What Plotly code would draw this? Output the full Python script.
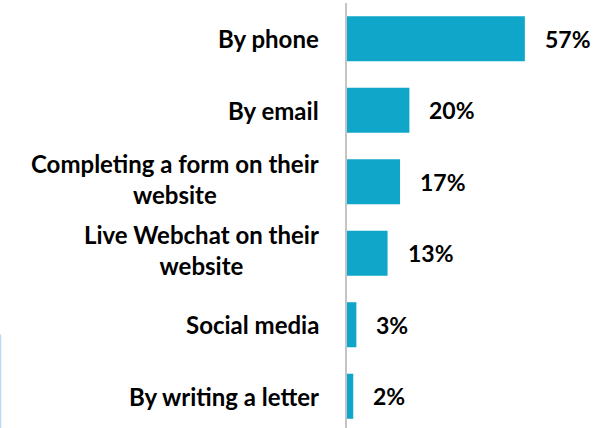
import plotly.graph_objects as go

# Contact channels and share of respondents (%)
channels = [
    "By phone",
    "By email",
    "Completing a form on their<br>website",
    "Live Webchat on their<br>website",
    "Social media",
    "By writing a letter",
]
shares = [57, 20, 17, 13, 3, 2]

BAR_COLOR = "#0FA6C9"
FONT = "Lato, 'Open Sans', sans-serif"
LABEL_SIZE = 24
VALUE_SIZE = 23

fig = go.Figure(
    go.Bar(
        x=shares,
        y=channels,
        orientation="h",
        marker=dict(color=BAR_COLOR, line=dict(width=0)),
        width=0.63,
        hoverinfo="skip",
    )
)

for ch, v in zip(channels, shares):
    # category label, right-anchored left of the axis, lines centred
    fig.add_annotation(
        x=0, y=ch, xref="paper", yref="y",
        text=f"<b>{ch}</b>",
        showarrow=False, xanchor="right", yanchor="middle", align="center",
        xshift=-26, yshift=3 if "<br>" in ch else 0,
        font=dict(family=FONT, size=LABEL_SIZE, color="#000000"),
    )
    # value label just beyond the bar end
    fig.add_annotation(
        x=v, y=ch, xref="x", yref="y",
        text=f"<b>{v}%</b>",
        showarrow=False, xanchor="left", yanchor="middle",
        xshift=18,
        font=dict(family=FONT, size=VALUE_SIZE, color="#000000"),
    )

# thin light-blue edge at the lower left of the canvas
fig.add_shape(
    type="line", xref="paper", yref="paper",
    x0=-1.3275, x1=-1.3275, y0=0.0, y1=0.22,
    line=dict(color="#BFD9F2", width=1.5),
)

fig.update_layout(
    width=608, height=428,
    margin=dict(l=347, r=0, t=3, b=0),
    paper_bgcolor="white",
    plot_bgcolor="white",
    showlegend=False,
    font=dict(family=FONT, size=LABEL_SIZE, color="#000000"),
    xaxis=dict(
        range=[0, 83.65],
        showgrid=False, zeroline=False, showline=False,
        showticklabels=False, ticks="",
        fixedrange=True,
    ),
    yaxis=dict(
        categoryorder="array", categoryarray=channels,
        range=[5.444, -0.5],
        showgrid=False, zeroline=False,
        showline=True, linecolor="#C4C4C4", linewidth=1.5,
        ticks="", showticklabels=False,
        fixedrange=True,
    ),
)

fig.write_html("out.html")
